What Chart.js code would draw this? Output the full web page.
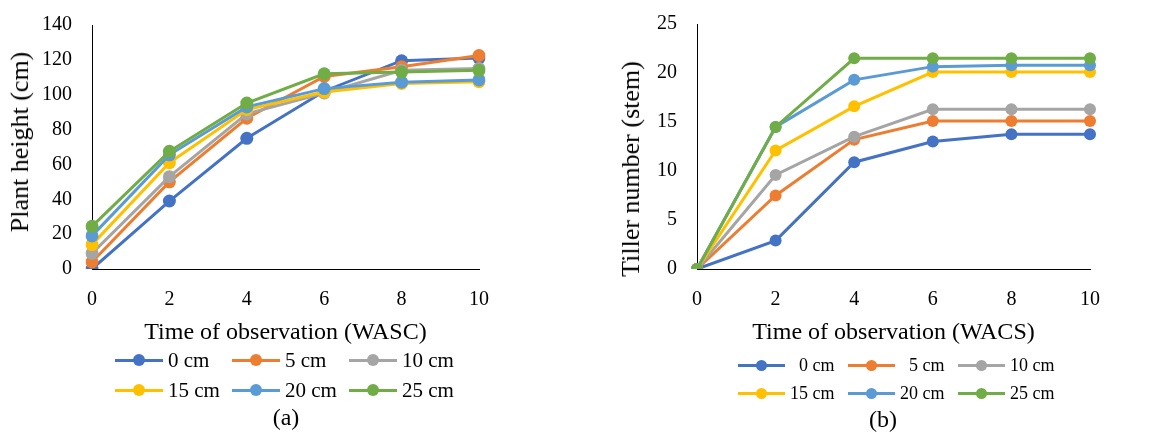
<!DOCTYPE html>
<html>
<head>
<meta charset="utf-8">
<script src="https://cdn.jsdelivr.net/npm/chart.js@4.4.1/dist/chart.umd.min.js"></script>
<style>
  body { margin: 0; background: #fff; font-family: "Liberation Serif", "Times New Roman", serif; }
  #wrap { position: relative; width: 1166px; height: 434px; overflow: hidden; }
  .box { position: absolute; top: 0; }
  .legend { position: absolute; display: grid; color: #000; }
  .item { display: flex; align-items: center; white-space: pre; }
  .mark { position: relative; flex: none; margin-right: 5px; }
  .mark .ln { position: absolute; left: 0; right: 0; top: 50%; height: 3px; margin-top: -1.5px; }
  .mark .dot { position: absolute; left: 50%; top: 50%; border-radius: 50%; }
  .cap { position: absolute; font-size: 24px; transform: translateX(-50%); }
  .ytitle { position: absolute; font-size: 26px; line-height: 1; white-space: nowrap;
            transform: translate(-50%, -50%) rotate(-90deg); }
</style>
</head>
<body>
<div id="wrap">
  <div class="box" style="left:0;width:580px;height:353px;"><canvas id="chartA"></canvas></div>
  <div class="box" style="left:580px;width:586px;height:353px;"><canvas id="chartB"></canvas></div>
  <div class="ytitle" style="left:20px;top:142px;">Plant height (cm)</div>
  <div class="ytitle" style="left:631px;top:169px;">Tiller number (stem)</div>
  <div class="legend" id="legendA" style="left:115px;top:345px;grid-template-columns:117px 117px 117px;grid-auto-rows:30px;font-size:21px;"></div>
  <div class="legend" id="legendB" style="left:738px;top:351px;grid-template-columns:110px 110px 110px;grid-auto-rows:28px;font-size:18px;"></div>
  <div class="cap" style="left:286px;top:404px;">(a)</div>
  <div class="cap" style="left:883px;top:406px;">(b)</div>
</div>
<script>
// weeks after sowing / cutting
const weeks = ['0', '2', '4', '6', '8', '10'];
const seriesNames = ['0 cm', '5 cm', '10 cm', '15 cm', '20 cm', '25 cm'];
const seriesNamesB = ['  0 cm', '  5 cm', '10 cm', '15 cm', '20 cm', '25 cm'];
const colors = ['#4472C4', '#ED7D31', '#A5A5A5', '#FFC000', '#5B9BD5', '#70AD47'];

// (a) plant height (cm)
const height0 = [0, 39, 75, 102, 119.5, 121];
const height5 = [4, 50, 86.5, 110.5, 116, 122.5];
const height10 = [9, 53, 89, 101, 114, 115];
const height15 = [14, 61, 91.5, 101.5, 106.5, 107.5];
const height20 = [19, 65.5, 93, 103.5, 107.2, 108.5];
const height25 = [24.5, 67.5, 95.2, 112, 113, 114];

// (b) tiller number (stem)
const tiller0 = [0, 2.9, 10.9, 13.0, 13.75, 13.75];
const tiller5 = [0, 7.5, 13.2, 15.1, 15.1, 15.1];
const tiller10 = [0, 9.6, 13.5, 16.3, 16.3, 16.3];
const tiller15 = [0, 12.1, 16.6, 20.1, 20.1, 20.1];
const tiller20 = [0, 14.5, 19.3, 20.65, 20.8, 20.8];
const tiller25 = [0, 14.5, 21.5, 21.5, 21.5, 21.5];

const serif = '"Liberation Serif", "Times New Roman", serif';
Chart.defaults.font.family = serif;
Chart.defaults.color = '#000';
Chart.defaults.animation = false;

function makeSets(list, radius) {
    return list.map(function (vals, i) {
        return {
            label: seriesNames[i],
            data: vals,
            borderColor: colors[i],
            backgroundColor: colors[i],
            pointBackgroundColor: colors[i],
            pointBorderColor: colors[i],
            borderWidth: 3,
            pointRadius: radius,
            pointBorderWidth: 0,
            tension: 0,
            order: -i
        };
    });
}

function makeChart(id, sets, cfg) {
    return new Chart(document.getElementById(id), {
        type: 'line',
        data: { labels: weeks, datasets: sets },
        options: {
            responsive: true,
            maintainAspectRatio: false,
            layout: { padding: cfg.padding },
            plugins: { legend: { display: false }, tooltip: { enabled: false } },
            scales: {
                x: {
                    offset: false,
                    grid: { display: false },
                    border: { display: true, color: '#000', width: 1 },
                    ticks: { font: { size: 20 }, padding: 11, maxRotation: 0 },
                    title: { display: true, text: cfg.xTitle, font: { size: 24 }, padding: { top: 0, bottom: 6 } },
                    afterFit: function (s) { s.height = 84; }
                },
                y: {
                    min: 0,
                    max: cfg.yMax,
                    grid: { display: false },
                    border: { display: true, color: '#000', width: 1 },
                    ticks: { font: { size: 20 }, padding: 12, stepSize: cfg.yStep },
                    afterFit: function (s) { s.width = cfg.yWidth; }
                }
            }
        }
    });
}

makeChart('chartA', makeSets([height0, height5, height10, height15, height20, height25], 6.5), {
    xTitle: 'Time of observation (WASC)',
    yMax: 140, yStep: 20, yWidth: 92,
    padding: { top: 25, right: 101, left: 0, bottom: 0 }
});

makeChart('chartB', makeSets([tiller0, tiller5, tiller10, tiller15, tiller20, tiller25], 6), {
    xTitle: 'Time of observation (WACS)',
    yMax: 25, yStep: 5, yWidth: 117,
    padding: { top: 18, right: 76, left: 0, bottom: 0 }
});

function buildLegend(id, names, lineW, dot) {
    const el = document.getElementById(id);
    names.forEach(function (name, i) {
        const item = document.createElement('div');
        item.className = 'item';
        item.innerHTML = '<span class="mark" style="width:' + lineW + 'px;height:' + dot + 'px">' +
            '<span class="ln" style="background:' + colors[i] + '"></span>' +
            '<span class="dot" style="width:' + dot + 'px;height:' + dot + 'px;margin:-' + dot / 2 + 'px 0 0 -' + dot / 2 + 'px;background:' + colors[i] + '"></span>' +
            '</span><span>' + name + '</span>';
        el.appendChild(item);
    });
}
buildLegend('legendA', seriesNames, 48, 12);
buildLegend('legendB', seriesNamesB, 47, 11);
</script>
</body>
</html>
